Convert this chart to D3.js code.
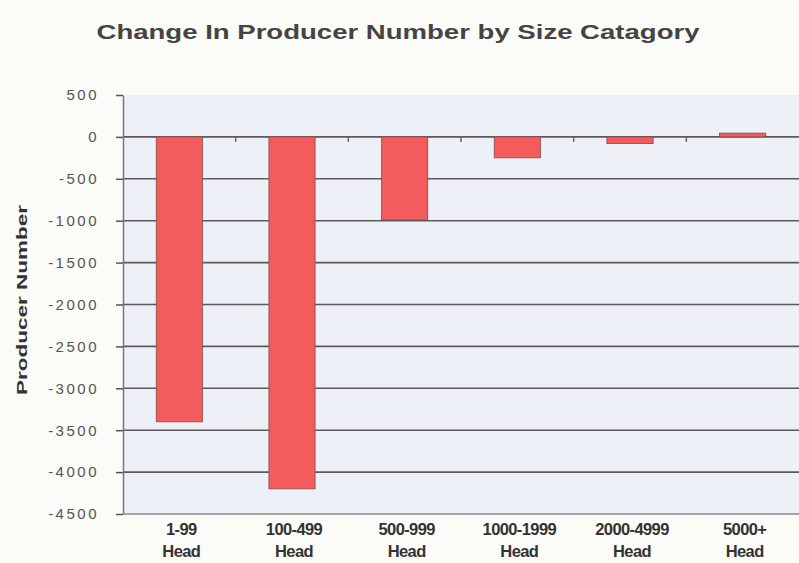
<!DOCTYPE html>
<html>
<head>
<meta charset="utf-8">
<script src="https://cdn.jsdelivr.net/npm/d3@7"></script>
<style>
    body { margin: 0; background: #fbfbf8; }
    svg { display: block; }
</style>
</head>
<body>
<svg id="chart" width="799" height="563"></svg>
<script>
const categories = ["1-99", "100-499", "500-999", "1000-1999", "2000-4999", "5000+"];
const values = [-3400, -4200, -990, -250, -80, 45];
const yTicks = [500, 0, -500, -1000, -1500, -2000, -2500, -3000, -3500, -4000, -4500];

const svg = d3.select("#chart");
const margin = {left: 123, right: 0, top: 95, bottom: 49};
const width = 799, height = 563;

const x = d3.scaleBand()
    .domain(categories)
    .range([margin.left, width - margin.right])
    .paddingInner(0.59)
    .paddingOuter(0.295);

const y = d3.scaleLinear()
    .domain([-4500, 500])
    .range([height - margin.bottom, margin.top]);

// plot background
svg.append("rect")
    .attr("x", margin.left)
    .attr("y", margin.top)
    .attr("width", width - margin.left - margin.right)
    .attr("height", y(-4500) - margin.top)
    .attr("fill", "#eef0f7");

// gridlines
svg.append("g")
    .selectAll("line")
    .data(yTicks.filter(d => d !== 500 && d !== -4500))
    .join("line")
    .attr("x1", margin.left)
    .attr("x2", width)
    .attr("y1", d => y(d))
    .attr("y2", d => y(d))
    .attr("stroke", "#5a5a5a")
    .attr("stroke-width", 1.6);

// bars
svg.append("g")
    .selectAll("rect")
    .data(values)
    .join("rect")
    .attr("x", (d, i) => x(categories[i]))
    .attr("width", x.bandwidth())
    .attr("y", d => y(Math.max(0, d)))
    .attr("height", d => Math.abs(y(d) - y(0)))
    .attr("fill", "#f45b5d")
    .attr("stroke", "#8a4a4a")
    .attr("stroke-width", 0.8);

// y axis
const yAxis = svg.append("g")
    .attr("transform", `translate(${margin.left},0)`)
    .call(d3.axisLeft(y)
        .tickValues(yTicks)
        .tickFormat(d => String(d))
        .tickSize(7)
        .tickSizeOuter(0)
        .tickPadding(17));
yAxis.select(".domain").attr("stroke", "#777").attr("stroke-width", 1.5);
yAxis.selectAll(".tick line").attr("stroke", "#555").attr("stroke-width", 1.5);
yAxis.selectAll(".tick text")
    .attr("fill", "#555")
    .attr("font-family", "Liberation Sans, Arial, sans-serif")
    .attr("font-size", 15)
    .attr("letter-spacing", 2.5);

// bottom border
svg.append("line")
    .attr("x1", margin.left).attr("x2", width)
    .attr("y1", y(-4500)).attr("y2", y(-4500))
    .attr("stroke", "#888").attr("stroke-width", 1.5);

// category ticks on the zero line
svg.append("g")
    .selectAll("line")
    .data(categories.slice(1))
    .join("line")
    .attr("x1", d => x(d) - x.step() * x.paddingInner() / 2)
    .attr("x2", d => x(d) - x.step() * x.paddingInner() / 2)
    .attr("y1", y(0))
    .attr("y2", y(0) + 5)
    .attr("stroke", "#666")
    .attr("stroke-width", 1.5);

// category labels
const labels = svg.append("g")
    .selectAll("text")
    .data(categories)
    .join("text")
    .attr("x", d => x(d) + x.bandwidth() / 2 + 2)
    .attr("y", 535)
    .attr("text-anchor", "middle")
    .attr("fill", "#333")
    .attr("font-family", "Liberation Sans Narrow, Arial Narrow, sans-serif")
    .attr("font-weight", "bold")
    .attr("font-size", 16.5)
    .attr("letter-spacing", -0.6);
labels.append("tspan").text(d => d);
labels.append("tspan")
    .attr("x", d => x(d) + x.bandwidth() / 2 + 2)
    .attr("dy", 22)
    .text("Head");

// title
svg.append("text")
    .attr("x", 398)
    .attr("y", 39)
    .attr("text-anchor", "middle")
    .attr("fill", "#444")
    .attr("font-family", "Liberation Sans, Arial, sans-serif")
    .attr("font-weight", "bold")
    .attr("font-size", 21)
    .attr("textLength", 603)
    .attr("lengthAdjust", "spacingAndGlyphs")
    .text("Change In Producer Number by Size Catagory");

// y axis title
svg.append("text")
    .attr("transform", "translate(27,300) rotate(-90)")
    .attr("text-anchor", "middle")
    .attr("fill", "#333")
    .attr("font-family", "Liberation Sans, Arial, sans-serif")
    .attr("font-weight", "bold")
    .attr("font-size", 15)
    .attr("textLength", 190)
    .attr("lengthAdjust", "spacingAndGlyphs")
    .text("Producer Number");
</script>
</body>
</html>
